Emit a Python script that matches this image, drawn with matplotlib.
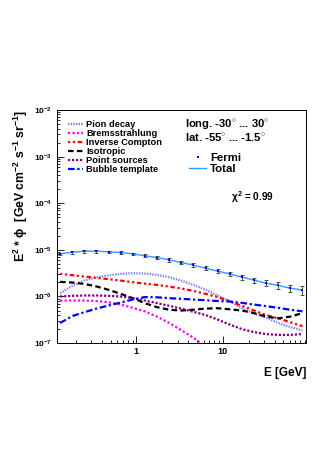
import numpy as np
import matplotlib
matplotlib.use("Agg")
import matplotlib.pyplot as plt
from matplotlib.ticker import LogLocator, NullFormatter, FixedLocator, FixedFormatter

plt.rcParams['font.family'] = ['Liberation Sans', 'DejaVu Sans']
plt.rcParams['font.weight'] = 'bold'
plt.rcParams['mathtext.fontset'] = 'custom'
plt.rcParams['mathtext.rm'] = 'Liberation Sans:bold'
plt.rcParams['mathtext.it'] = 'Liberation Sans:bold'
plt.rcParams['mathtext.bf'] = 'Liberation Sans:bold'

# energies of the Fermi bins [GeV]
energy = [0.130, 0.180, 0.248, 0.343, 0.475, 0.656, 0.907, 1.25, 1.73, 2.40,
          3.31, 4.58, 6.33, 8.75, 12.1, 16.7, 23.1, 31.9, 44.2, 61.0, 84.4]

fermi = [8.2e-6, 8.9e-6, 9.35e-6, 9.35e-6, 9.05e-6, 8.75e-6, 8.2e-6, 7.45e-6, 6.85e-6,
         6.1e-6, 5.35e-6, 4.7e-6, 4.05e-6, 3.5e-6, 3.05e-6, 2.6e-6, 2.25e-6, 1.93e-6,
         1.72e-6, 1.51e-6, 1.37e-6]
fermi_relerr = [0.07, 0.07, 0.07, 0.07, 0.07, 0.07, 0.07, 0.07, 0.08, 0.08, 0.08,
                0.09, 0.09, 0.10, 0.11, 0.12, 0.13, 0.15, 0.17, 0.18, 0.20]
total = fermi

pion = [1.18e-6, 1.69e-6, 2.19e-6, 2.58e-6, 2.85e-6, 3.05e-6, 3.16e-6, 3.1e-6, 2.9e-6,
        2.58e-6, 2.19e-6, 1.77e-6, 1.39e-6, 1.05e-6, 7.9e-7, 5.6e-7, 4.3e-7, 3.5e-7,
        2.7e-7, 2.2e-7, 1.87e-7]
inverse_compton = [3.06e-6, 2.86e-6, 2.68e-6, 2.51e-6, 2.35e-6, 2.19e-6, 2.02e-6, 1.89e-6,
                   1.77e-6, 1.63e-6, 1.48e-6, 1.32e-6, 1.14e-6, 9.7e-7, 7.9e-7, 6.3e-7,
                   5.0e-7, 4.0e-7, 3.4e-7, 2.8e-7, 2.3e-7]
isotropic = [2.06e-6, 1.99e-6, 1.86e-6, 1.64e-6, 1.39e-6, 1.14e-6, 9.2e-7, 7.2e-7, 5.9e-7,
             5.2e-7, 5.0e-7, 5.2e-7, 5.5e-7, 5.6e-7, 5.3e-7, 5.0e-7, 4.4e-7, 3.7e-7,
             3.4e-7, 3.7e-7, 4.4e-7]
point_sources = [1.0e-6, 1.03e-6, 1.05e-6, 1.05e-6, 1.03e-6, 1.0e-6, 9.2e-7, 8.2e-7,
                 7.2e-7, 6.3e-7, 5.5e-7, 4.7e-7, 4.0e-7, 3.2e-7, 2.5e-7, 2.0e-7, 1.72e-7,
                 1.56e-7, 1.5e-7, 1.5e-7, 1.56e-7]
bremsstrahlung = [8.1e-7, 8.2e-7, 8.2e-7, 8.0e-7, 7.5e-7, 6.7e-7, 5.7e-7, 4.8e-7, 3.7e-7,
                  2.7e-7, 1.9e-7, 1.3e-7, 8.5e-8]
bubble = [2.7e-7, 3.8e-7, 4.6e-7, 5.5e-7, 6.4e-7, 7.4e-7, 8.6e-7, 9.7e-7, 9.6e-7, 9.2e-7,
          8.9e-7, 8.6e-7, 8.3e-7, 8.0e-7, 7.8e-7, 7.3e-7, 6.7e-7, 6.2e-7, 5.7e-7,
          5.2e-7, 4.8e-7]

fig = plt.figure(figsize=(3.32, 4.70), dpi=100)
ax = fig.add_axes([0.172, 0.270, 0.750, 0.496])

lw = 1.6
l_pion, = ax.plot(energy, pion, color='#7878ff', lw=lw, ls=(0, (0.6, 0.6)), label='Pion decay')
l_brem, = ax.plot(energy[:len(bremsstrahlung)], bremsstrahlung, color='#ff00ff', lw=lw,
                  ls=(0, (1, 1)), label='Bremsstrahlung')
l_ic, = ax.plot(energy, inverse_compton, color='#ff0000', lw=lw, ls=(0, (1, 1.2, 1, 1.2, 2, 1.2)),
                label='Inverse Compton')
l_iso, = ax.plot(energy, isotropic, color='black', lw=lw, ls=(0, (2.5, 1.5)), label='Isotropic')
l_ps, = ax.plot(energy, point_sources, color='#800080', lw=lw, ls=(0, (1, 0.8)),
                label='Point sources')
l_bub, = ax.plot(energy, bubble, color='#0000ff', lw=lw, ls=(0, (3, 1.2, 1, 1.2)),
                 label='Bubble template')

l_tot, = ax.plot(energy, total, color='#3399ff', lw=1.0, label='Total')
err = np.array(fermi) * np.array(fermi_relerr)
ax.errorbar(energy, fermi, yerr=err, fmt='none', ecolor='#333333', elinewidth=0.6,
            capsize=1.2, capthick=0.6)
l_fermi, = ax.plot(energy, fermi, 's', color='#0000ff', ms=1.6, mew=0, label='Fermi')

ax.set_xscale('log')
ax.set_yscale('log')
ax.set_xlim(0.12, 93)
ax.set_ylim(1e-7, 1e-2)

ax.xaxis.set_major_locator(FixedLocator([1, 10]))
ax.xaxis.set_major_formatter(FixedFormatter(['1', '10']))
ax.xaxis.set_minor_locator(LogLocator(base=10, subs=np.arange(2, 10)))
ax.xaxis.set_minor_formatter(NullFormatter())
ax.yaxis.set_major_locator(LogLocator(base=10, numticks=10))
ax.yaxis.set_minor_locator(LogLocator(base=10, subs=np.arange(2, 10), numticks=10))
ax.yaxis.set_minor_formatter(NullFormatter())
ax.tick_params(which='both', direction='in', top=False, right=False, width=0.6)
ax.tick_params(which='major', length=5, labelsize=6)
ax.tick_params(which='minor', length=2.5)
ax.tick_params(axis='x', which='major', labelsize=6.5, pad=3)
for s in ax.spines.values():
    s.set_linewidth(0.7)

ax.set_xlabel('E [GeV]', fontsize=8.5, fontweight='bold', loc='right', labelpad=8)
ax.set_ylabel(r'E$^2$ * $\phi$  [GeV cm$^{-2}$ s$^{-1}$ sr$^{-1}$]', fontsize=8.8,
              fontweight='bold', loc='top', labelpad=3)

leg1 = ax.legend(handles=[l_pion, l_brem, l_ic, l_iso, l_ps, l_bub], loc='upper left',
                 bbox_to_anchor=(0.02, 0.98), frameon=False, fontsize=6.7, handlelength=1.6,
                 handletextpad=0.4, labelspacing=0.0, borderaxespad=0.2)
ax.add_artist(leg1)
ax.legend(handles=[l_fermi, l_tot], loc='upper left', bbox_to_anchor=(0.49, 0.86),
          frameon=False, fontsize=8.2, handlelength=1.5, handletextpad=0.3, labelspacing=0.1,
          markerscale=1.0)

ax.text(0.515, 0.94, 'long. -30$^{\\circ}$ ... 30$^{\\circ}$', transform=ax.transAxes,
        fontsize=8.1, fontweight='bold', va='center')
ax.text(0.515, 0.886, 'lat. -55$^{\\circ}$ ... -1.5$^{\\circ}$', transform=ax.transAxes,
        fontsize=8.1, fontweight='bold', va='center')
ax.text(0.70, 0.628, r'$\chi^2$ = 0.99', transform=ax.transAxes, fontsize=7.2,
        fontweight='bold', va='center')

fig.savefig('out.png', dpi=100)
